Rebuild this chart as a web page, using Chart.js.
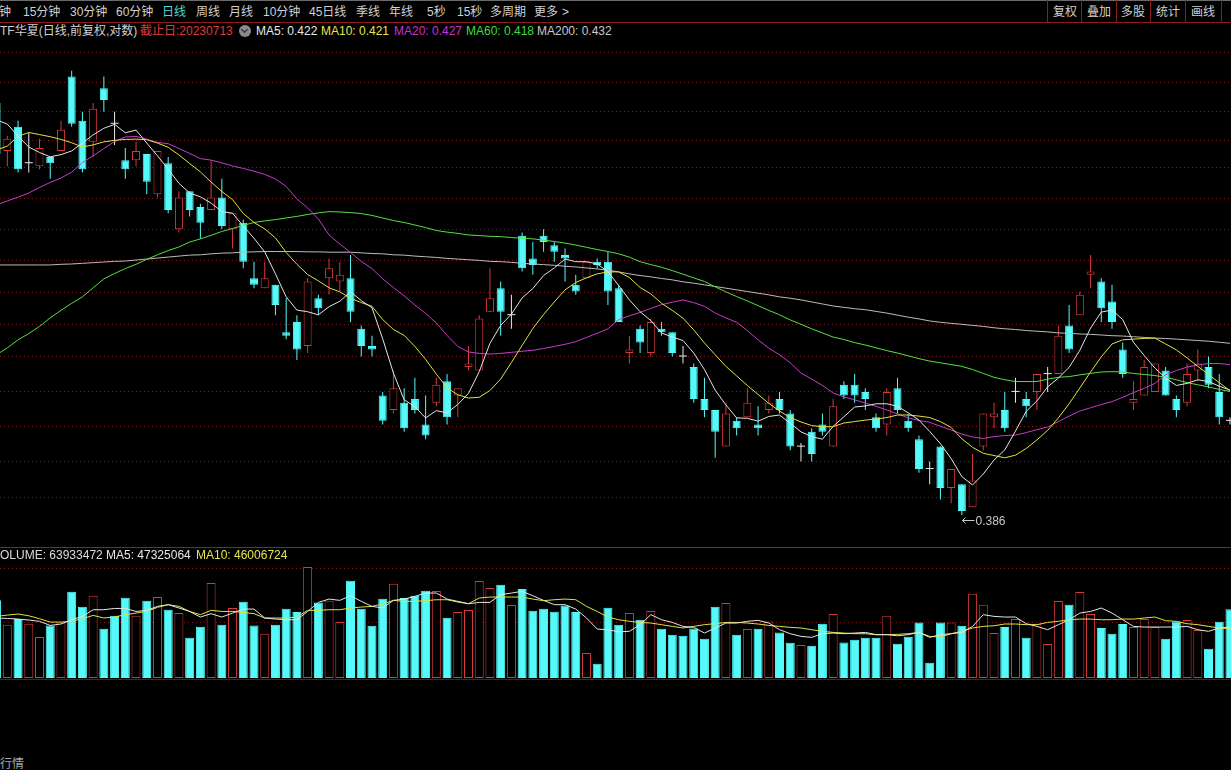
<!DOCTYPE html>
<html>
<head>
<meta charset="utf-8">
<script src="https://cdn.jsdelivr.net/npm/chart.js@4.4.0/dist/chart.umd.min.js"></script>
<style>
html,body{margin:0;padding:0;background:#000;}
#wrap{position:relative;width:1231px;height:770px;overflow:hidden;background:#000;
  font-family:"Liberation Sans","Noto Sans CJK SC",sans-serif;font-size:12px;color:#d0d0d0;}
.t{position:absolute;white-space:nowrap;line-height:16px;height:16px;}
.hl{position:absolute;left:0;width:1231px;height:1px;}
.vl{position:absolute;top:0;width:1px;height:22px;background:#8e1c1c;}
canvas{position:absolute;left:0;}
</style>
</head>
<body>
<div id="wrap">
  <div class="hl" style="top:0;background:#6a6a6a"></div>
  <!-- toolbar -->
  <span class="t" style="left:-1px;top:4px">钟</span>
  <span class="t" style="left:23px;top:4px">15分钟</span>
  <span class="t" style="left:70px;top:4px">30分钟</span>
  <span class="t" style="left:116px;top:4px">60分钟</span>
  <span class="t" style="left:162px;top:4px;color:#4fd8d8">日线</span>
  <span class="t" style="left:196px;top:4px">周线</span>
  <span class="t" style="left:229px;top:4px">月线</span>
  <span class="t" style="left:263px;top:4px">10分钟</span>
  <span class="t" style="left:309px;top:4px">45日线</span>
  <span class="t" style="left:356px;top:4px">季线</span>
  <span class="t" style="left:389px;top:4px">年线</span>
  <span class="t" style="left:427px;top:4px">5秒</span>
  <span class="t" style="left:457px;top:4px">15秒</span>
  <span class="t" style="left:490px;top:4px">多周期</span>
  <span class="t" style="left:534px;top:4px">更多</span>
  <span class="t" style="left:562px;top:4px">&gt;</span>
  <div class="vl" style="left:1047px"></div>
  <div class="vl" style="left:1081px"></div>
  <div class="vl" style="left:1116px"></div>
  <div class="vl" style="left:1150px"></div>
  <div class="vl" style="left:1185px"></div>
  <div class="vl" style="left:1221px"></div>
  <span class="t" style="left:1053px;top:4px">复权</span>
  <span class="t" style="left:1087px;top:4px">叠加</span>
  <span class="t" style="left:1121px;top:4px">多股</span>
  <span class="t" style="left:1156px;top:4px">统计</span>
  <span class="t" style="left:1191px;top:4px">画线</span>
  <div class="hl" style="top:22px;background:#8e1c1c"></div>
  <!-- info line -->
  <span class="t" style="left:0;top:23px;color:#d0d0d0">TF华夏(日线,前复权,对数)</span>
  <span class="t" style="left:140px;top:23px;color:#e03a3a">截止日:20230713</span>
  <span style="position:absolute;left:239px;top:25px;width:12px;height:12px;border-radius:6px;background:#8a8a8a"></span>
  <span style="position:absolute;left:242px;top:27px;width:4px;height:4px;border-right:1.5px solid #222;border-bottom:1.5px solid #222;transform:rotate(45deg)"></span>
  <span class="t" style="left:256px;top:23px;color:#e8e8e8">MA5: 0.422</span>
  <span class="t" style="left:321px;top:23px;color:#e6e650">MA10: 0.421</span>
  <span class="t" style="left:394px;top:23px;color:#c832c8">MA20: 0.427</span>
  <span class="t" style="left:466px;top:23px;color:#3cdc3c">MA60: 0.418</span>
  <span class="t" style="left:537px;top:23px;color:#c8c8c8">MA200: 0.432</span>

  <canvas id="mainChart" width="1231" height="507" style="top:40px"></canvas>
  <span id="lowLabel" class="t" style="color:#c8c8c8"></span>

  <div class="hl" style="top:547px;background:#a01c1c"></div>
  <canvas id="volChart" width="1231" height="130" style="top:548px"></canvas>
  <span class="t" style="left:-8px;top:547px;color:#dcdcdc">VOLUME: 63933472</span>
  <span class="t" style="left:106px;top:547px;color:#e8e8e8">MA5: 47325064</span>
  <span class="t" style="left:196px;top:547px;color:#e6e650">MA10: 46006724</span>
  <div class="hl" style="top:679px;background:#6e1414"></div>

  <span class="t" style="left:0;top:756px;color:#a8a8a8">行情</span>
</div>

<script>
// ---------------- data ----------------
// trading sessions, oldest first; the last one ends on 2023-07-13
const open = [0.508,0.492,0.500,0.488,0.487,0.490,0.492,0.517,0.502,0.495,
0.513,0.501,0.489,0.489,0.491,0.478,0.488,0.467,0.479,0.474,
0.473,0.477,0.467,0.469,0.452,0.449,0.450,0.436,0.439,0.432,
0.446,0.452,0.451,0.452,0.437,0.432,0.418,0.414,0.416,0.417,
0.410,0.416,0.422,0.418,0.426,0.425,0.442,0.449,0.441,0.465,
0.458,0.465,0.462,0.459,0.450,0.452,0.457,0.457,0.449,0.430,
0.437,0.430,0.437,0.436,0.429,0.426,0.417,0.414,0.404,0.411,
0.412,0.410,0.414,0.417,0.413,0.404,0.408,0.410,0.404,0.421,
0.421,0.419,0.412,0.410,0.420,0.411,0.406,0.398,0.404,0.393,
0.394,0.388,0.404,0.412,0.414,0.419,0.417,0.419,0.424,0.424,
0.438,0.441,0.453,0.451,0.445,0.431,0.416,0.418,0.419,0.425,
0.417,0.416,0.425,0.426,0.419,0.411];

const high = [0.509,0.497,0.502,0.498,0.496,0.490,0.502,0.519,0.505,0.508,
0.517,0.505,0.493,0.495,0.491,0.492,0.490,0.479,0.479,0.475,
0.489,0.483,0.472,0.470,0.457,0.457,0.450,0.446,0.441,0.452,
0.447,0.458,0.457,0.459,0.438,0.435,0.419,0.425,0.420,0.423,
0.418,0.423,0.424,0.420,0.432,0.441,0.455,0.451,0.447,0.466,
0.463,0.467,0.463,0.461,0.453,0.457,0.458,0.460,0.450,0.435,
0.438,0.440,0.439,0.436,0.432,0.427,0.423,0.414,0.416,0.412,
0.420,0.415,0.418,0.419,0.414,0.405,0.409,0.413,0.417,0.422,
0.424,0.420,0.413,0.420,0.423,0.413,0.407,0.400,0.404,0.398,
0.394,0.402,0.413,0.416,0.419,0.423,0.419,0.424,0.426,0.438,
0.444,0.448,0.459,0.452,0.450,0.433,0.422,0.428,0.427,0.426,
0.418,0.427,0.431,0.429,0.424,0.412];

const low = [0.490,0.487,0.485,0.485,0.486,0.483,0.492,0.500,0.485,0.490,
0.505,0.494,0.483,0.487,0.478,0.477,0.472,0.466,0.471,0.464,
0.473,0.467,0.461,0.455,0.449,0.449,0.441,0.434,0.428,0.430,
0.441,0.447,0.448,0.439,0.429,0.429,0.410,0.413,0.408,0.413,
0.406,0.415,0.410,0.412,0.425,0.425,0.442,0.435,0.437,0.454,
0.453,0.460,0.457,0.451,0.447,0.452,0.455,0.444,0.439,0.427,
0.430,0.429,0.435,0.429,0.427,0.416,0.412,0.401,0.404,0.407,
0.412,0.407,0.413,0.413,0.403,0.400,0.400,0.407,0.404,0.417,
0.416,0.414,0.408,0.407,0.413,0.408,0.397,0.394,0.390,0.389,
0.386,0.388,0.403,0.409,0.408,0.416,0.412,0.414,0.419,0.424,
0.430,0.441,0.449,0.439,0.437,0.423,0.414,0.418,0.419,0.418,
0.412,0.415,0.422,0.420,0.410,0.410];

const close = [0.491,0.496,0.486,0.488,0.493,0.488,0.499,0.501,0.486,0.506,
0.509,0.501,0.486,0.492,0.482,0.492,0.473,0.477,0.473,0.469,
0.477,0.468,0.472,0.457,0.450,0.452,0.444,0.435,0.431,0.451,
0.443,0.455,0.453,0.442,0.432,0.431,0.411,0.420,0.409,0.414,
0.407,0.421,0.412,0.420,0.427,0.440,0.446,0.442,0.441,0.455,
0.456,0.463,0.460,0.458,0.448,0.457,0.456,0.448,0.439,0.431,
0.433,0.439,0.436,0.430,0.429,0.417,0.414,0.408,0.413,0.409,
0.416,0.409,0.416,0.414,0.404,0.404,0.402,0.408,0.415,0.418,
0.418,0.417,0.409,0.419,0.414,0.409,0.398,0.398,0.393,0.398,
0.387,0.395,0.413,0.413,0.409,0.419,0.415,0.424,0.424,0.435,
0.431,0.447,0.454,0.443,0.439,0.424,0.417,0.426,0.427,0.418,
0.414,0.424,0.427,0.421,0.412,0.411];

const ma5 = [0.5023,0.5009,0.4969,0.4933,0.4915,0.4901,0.4908,0.4920,0.4946,0.4973,
0.4995,0.5008,0.4980,0.4989,0.4946,0.4904,0.4861,0.4815,0.4784,0.4772,
0.4752,0.4725,0.4720,0.4680,0.4642,0.4600,0.4533,0.4464,0.4425,0.4420,
0.4411,0.4435,0.4451,0.4479,0.4453,0.4432,0.4341,0.4243,0.4168,0.4149,
0.4118,0.4138,0.4132,0.4155,0.4186,0.4247,0.4328,0.4380,0.4413,0.4461,
0.4489,0.4528,0.4551,0.4578,0.4570,0.4570,0.4563,0.4540,0.4498,0.4455,
0.4420,0.4394,0.4358,0.4346,0.4336,0.4300,0.4253,0.4195,0.4154,0.4118,
0.4117,0.4109,0.4122,0.4126,0.4103,0.4080,0.4067,0.4060,0.4095,0.4121,
0.4148,0.4151,0.4157,0.4157,0.4150,0.4132,0.4112,0.4081,0.4048,0.4008,
0.3960,0.3938,0.3967,0.4004,0.4031,0.4082,0.4136,0.4165,0.4204,0.4229,
0.4259,0.4308,0.4372,0.4419,0.4425,0.4397,0.4331,0.4293,0.4257,0.4229,
0.4208,0.4214,0.4224,0.4219,0.4206,0.4195];

const ma10 = [0.4923,0.4936,0.4968,0.4981,0.4974,0.4967,0.4958,0.4947,0.4933,0.4940,
0.4950,0.4955,0.4958,0.4959,0.4957,0.4946,0.4932,0.4907,0.4879,0.4852,
0.4819,0.4789,0.4763,0.4719,0.4691,0.4671,0.4643,0.4598,0.4562,0.4531,
0.4512,0.4491,0.4479,0.4460,0.4447,0.4436,0.4397,0.4368,0.4351,0.4319,
0.4282,0.4240,0.4202,0.4182,0.4173,0.4175,0.4194,0.4226,0.4273,0.4322,
0.4371,0.4412,0.4449,0.4485,0.4507,0.4521,0.4533,0.4539,0.4539,0.4522,
0.4492,0.4473,0.4445,0.4424,0.4401,0.4367,0.4329,0.4295,0.4262,0.4235,
0.4208,0.4183,0.4158,0.4137,0.4119,0.4107,0.4097,0.4094,0.4094,0.4104,
0.4108,0.4112,0.4115,0.4119,0.4126,0.4126,0.4123,0.4119,0.4108,0.4092,
0.4061,0.4038,0.4022,0.4016,0.4010,0.4017,0.4035,0.4058,0.4084,0.4118,
0.4157,0.4201,0.4246,0.4289,0.4326,0.4338,0.4340,0.4342,0.4343,0.4326,
0.4309,0.4286,0.4262,0.4239,0.4216,0.4193];

const ma20 = [0.4746,0.4759,0.4771,0.4784,0.4802,0.4818,0.4832,0.4851,0.4882,0.4904,
0.4928,0.4951,0.4966,0.4968,0.4959,0.4948,0.4944,0.4928,0.4912,0.4895,
0.4890,0.4881,0.4871,0.4863,0.4854,0.4844,0.4829,0.4805,0.4765,0.4737,
0.4702,0.4652,0.4624,0.4598,0.4571,0.4549,0.4518,0.4492,0.4467,0.4440,
0.4415,0.4387,0.4351,0.4319,0.4303,0.4299,0.4297,0.4299,0.4302,0.4305,
0.4308,0.4313,0.4319,0.4325,0.4333,0.4345,0.4357,0.4370,0.4397,0.4408,
0.4418,0.4430,0.4441,0.4448,0.4455,0.4447,0.4436,0.4416,0.4402,0.4389,
0.4365,0.4338,0.4314,0.4295,0.4272,0.4243,0.4226,0.4208,0.4187,0.4176,
0.4168,0.4159,0.4150,0.4140,0.4129,0.4118,0.4111,0.4106,0.4095,0.4085,
0.4074,0.4066,0.4062,0.4067,0.4070,0.4071,0.4078,0.4086,0.4093,0.4108,
0.4123,0.4137,0.4146,0.4155,0.4163,0.4175,0.4188,0.4200,0.4214,0.4238,
0.4250,0.4260,0.4266,0.4270,0.4270,0.4267];

const ma60 = [0.4295,0.4315,0.4338,0.4356,0.4377,0.4402,0.4424,0.4445,0.4464,0.4491,
0.4518,0.4534,0.4549,0.4562,0.4577,0.4591,0.4604,0.4615,0.4630,0.4640,
0.4651,0.4663,0.4672,0.4682,0.4691,0.4696,0.4700,0.4705,0.4710,0.4716,
0.4721,0.4725,0.4724,0.4722,0.4719,0.4713,0.4705,0.4697,0.4691,0.4683,
0.4675,0.4666,0.4661,0.4657,0.4652,0.4650,0.4648,0.4647,0.4644,0.4642,
0.4640,0.4636,0.4632,0.4627,0.4621,0.4614,0.4607,0.4601,0.4594,0.4584,
0.4570,0.4561,0.4553,0.4543,0.4532,0.4521,0.4510,0.4494,0.4479,0.4465,
0.4452,0.4438,0.4424,0.4411,0.4396,0.4383,0.4370,0.4358,0.4346,0.4339,
0.4330,0.4323,0.4315,0.4307,0.4300,0.4292,0.4284,0.4277,0.4272,0.4267,
0.4262,0.4253,0.4242,0.4231,0.4224,0.4219,0.4219,0.4219,0.4226,0.4231,
0.4233,0.4238,0.4242,0.4246,0.4247,0.4246,0.4242,0.4239,0.4236,0.4231,
0.4224,0.4216,0.4210,0.4204,0.4197,0.4191];

const ma200 = [0.4560,0.4560,0.4560,0.4560,0.4560,0.4560,0.4562,0.4563,0.4565,0.4567,
0.4569,0.4571,0.4572,0.4575,0.4578,0.4581,0.4584,0.4587,0.4590,0.4591,
0.4594,0.4596,0.4597,0.4599,0.4600,0.4601,0.4601,0.4601,0.4601,0.4600,
0.4600,0.4599,0.4599,0.4599,0.4597,0.4595,0.4594,0.4591,0.4590,0.4587,
0.4585,0.4583,0.4580,0.4578,0.4576,0.4574,0.4571,0.4570,0.4568,0.4565,
0.4563,0.4561,0.4559,0.4556,0.4554,0.4551,0.4548,0.4544,0.4539,0.4533,
0.4528,0.4524,0.4519,0.4515,0.4509,0.4505,0.4500,0.4495,0.4490,0.4485,
0.4480,0.4475,0.4470,0.4464,0.4460,0.4455,0.4449,0.4443,0.4437,0.4433,
0.4429,0.4426,0.4421,0.4416,0.4410,0.4404,0.4399,0.4393,0.4389,0.4386,
0.4383,0.4380,0.4377,0.4373,0.4370,0.4368,0.4365,0.4363,0.4361,0.4358,
0.4357,0.4355,0.4354,0.4352,0.4350,0.4349,0.4347,0.4345,0.4343,0.4342,
0.4340,0.4338,0.4336,0.4334,0.4331,0.4328];

const volume = [72.2e6,49.6e6,54.9e6,50.5e6,38.1e6,48.9e6,51.7e6,80.3e6,66.3e6,76.5e6,
45.8e6,57.9e6,74.7e6,57.9e6,71.9e6,75.3e6,63.5e6,60.5e6,37.5e6,47.7e6,
88.4e6,49.6e6,65.1e6,71.0e6,48.9e6,41.2e6,49.6e6,64.4e6,61.4e6,103.2e6,
70.3e6,71.9e6,52.1e6,90.5e6,64.4e6,48.6e6,73.7e6,87.7e6,74.4e6,76.5e6,
81.2e6,80.9e6,56.1e6,61.4e6,63.2e6,90.2e6,83.7e6,86.8e6,67.9e6,82.8e6,
62.6e6,64.4e6,61.7e6,67.5e6,61.4e6,23.3e6,13.3e6,65.4e6,49.6e6,60.5e6,
54.2e6,62.3e6,45.8e6,40.3e6,39.3e6,46.1e6,36.5e6,66.3e6,69.8e6,40.3e6,
45.6e6,45.8e6,52.6e6,42.4e6,32.8e6,30.7e6,30.0e6,50.5e6,59.5e6,33.1e6,
35.6e6,37.5e6,37.5e6,57.9e6,31.9e6,38.4e6,51.7e6,14.2e6,51.7e6,51.7e6,
48.6e6,78.4e6,68.2e6,41.9e6,47.4e6,54.9e6,37.5e6,50.5e6,31.6e6,71.6e6,
68.2e6,80.0e6,59.5e6,46.5e6,41.2e6,50.2e6,47.4e6,54.9e6,47.4e6,36.5e6,
52.6e6,53.9e6,44.6e6,27.2e6,52.4e6,63933472];

// 1 = red (up) volume bar, 0 = cyan (down) volume bar
const volumeUp = [0,1,0,1,1,0,1,0,0,1,
0,0,0,1,0,1,0,1,0,0,
1,0,1,0,0,1,0,0,0,1,
0,1,1,0,0,0,0,1,0,0,
0,1,0,1,1,1,1,0,1,0,
0,0,0,0,0,1,0,0,0,1,
0,1,0,0,0,0,0,0,1,0,
1,0,1,0,0,1,0,0,1,0,
0,0,0,1,0,0,0,0,0,1,
0,1,1,1,0,1,0,1,1,1,
0,1,1,0,0,0,1,1,1,0,
0,1,1,0,0,0];

const volMa5 = [55.8e6,55.4e6,54.8e6,53.9e6,52.7e6,48.9e6,50.2e6,54.2e6,57.3e6,63.5e6,
63.5e6,64.7e6,64.7e6,61.9e6,62.9e6,66.6e6,68.2e6,65.1e6,61.9e6,56.7e6,
59.8e6,56.7e6,60.4e6,64.1e6,64.1e6,55.8e6,54.8e6,54.2e6,54.2e6,61.9e6,
70.3e6,73.4e6,72.2e6,76.5e6,71.3e6,66.6e6,65.1e6,72.2e6,73.4e6,75.9e6,
79.0e6,79.0e6,73.4e6,71.3e6,69.1e6,70.3e6,70.3e6,77.5e6,79.0e6,80.6e6,
76.5e6,72.2e6,68.2e6,68.2e6,64.1e6,55.8e6,45.5e6,44.9e6,43.0e6,43.4e6,
49.6e6,58.9e6,54.2e6,51.7e6,48.0e6,47.1e6,41.8e6,46.5e6,51.1e6,51.1e6,
52.7e6,53.6e6,51.1e6,44.9e6,41.2e6,38.7e6,37.8e6,41.2e6,41.8e6,41.2e6,
41.8e6,42.4e6,40.3e6,40.3e6,39.3e6,40.3e6,42.4e6,37.8e6,40.3e6,41.2e6,
42.4e6,48.0e6,58.9e6,57.3e6,56.7e6,56.7e6,50.5e6,48.0e6,44.9e6,49.6e6,
54.2e6,60.4e6,61.9e6,65.1e6,60.4e6,54.2e6,48.0e6,47.4e6,47.4e6,47.4e6,
47.4e6,48.0e6,44.9e6,43.4e6,46.5e6,47325064];

const volMa10 = [57.3e6,58.5e6,59.5e6,57.9e6,55.1e6,52.0e6,52.0e6,52.7e6,55.1e6,58.2e6,
55.8e6,56.7e6,58.9e6,60.4e6,61.9e6,65.7e6,68.2e6,66.6e6,61.9e6,58.9e6,
62.9e6,61.9e6,61.9e6,61.0e6,59.8e6,55.8e6,55.8e6,55.8e6,56.7e6,62.9e6,
62.9e6,63.5e6,63.5e6,65.1e6,66.0e6,66.6e6,68.8e6,72.2e6,71.3e6,71.3e6,
71.9e6,72.8e6,72.8e6,70.6e6,69.1e6,74.4e6,75.3e6,75.3e6,75.3e6,75.3e6,
73.4e6,71.9e6,72.8e6,73.4e6,72.8e6,66.6e6,61.9e6,56.7e6,54.2e6,52.7e6,
51.7e6,51.1e6,49.6e6,48.0e6,46.5e6,48.0e6,49.6e6,50.5e6,51.7e6,51.7e6,
51.1e6,50.2e6,48.9e6,48.0e6,47.1e6,46.5e6,44.9e6,43.4e6,42.4e6,41.8e6,
41.2e6,41.2e6,40.3e6,40.3e6,40.6e6,41.2e6,42.4e6,38.7e6,38.1e6,41.2e6,
43.4e6,46.5e6,48.0e6,48.6e6,50.2e6,50.2e6,49.6e6,49.6e6,51.7e6,52.7e6,
54.2e6,54.8e6,54.8e6,54.2e6,54.2e6,54.8e6,54.8e6,55.8e6,56.7e6,53.3e6,
52.7e6,50.5e6,49.6e6,48.0e6,46.5e6,46006724];

// horizontal reference lines (hidden tick labels)
const priceGridTicks = [0.3906,0.4000,0.4094,0.4191,0.4289,0.4384,0.4478,0.4575,0.4670,0.4768,0.4865,0.4956,0.5051,0.5149,0.5252];
const volumeGridTicks = [51.8e6, 102.0e6];

// ---------------- styling ----------------
const RED = '#d63a3a', CYAN = '#54fafa', DOJI = '#e8e8e8';
const GRID = '#7a1c1c';
const X_MIN = 0.317, X_MAX = 115.095;         // visible window (session index)
const Y_MIN = 0.37785, Y_MAX = 0.52977;       // visible price window (log)
const VOL_MAX = 120.9e6;

const idx = open.map((_, i) => i);
const dir = i => close[i] > open[i] ? 1 : (close[i] < open[i] ? -1 : 0);
const candleColor = i => { const d = dir(i); return d > 0 ? RED : d < 0 ? CYAN : DOJI; };

const pts = arr => arr.map((v, i) => ({x: idx[i], y: v}));
const lineDs = (label, arr, color) => ({
  type: 'line', label, data: pts(arr), borderColor: color, borderWidth: 1,
  pointRadius: 0, tension: 0, fill: false, order: 0
});

const lowMarker = {
  id: 'lowMarker',
  afterDatasetsDraw(chart) {
    const m = Math.min(...low);
    const i = low.indexOf(m);
    const x = chart.scales.x.getPixelForValue(idx[i]);
    const y = chart.scales.y.getPixelForValue(m);
    const c = chart.ctx;
    c.save();
    c.strokeStyle = '#c8c8c8'; c.lineWidth = 1;
    const ax = Math.round(x) + 0.5, ay = Math.round(y + 5) + 0.5;
    c.beginPath();
    c.moveTo(ax, ay); c.lineTo(ax + 12, ay);
    c.moveTo(ax, ay); c.lineTo(ax + 3, ay - 3);
    c.moveTo(ax, ay); c.lineTo(ax + 3, ay + 3);
    c.stroke();
    c.restore();
    const lab = document.getElementById('lowLabel');
    lab.textContent = m.toFixed(3);
    lab.style.left = (ax + 13) + 'px';
    lab.style.top = (40 + ay - 8) + 'px';
  }
};

const zeroWidth = s => { s.width = 0; };

new Chart(document.getElementById('mainChart'), {
  type: 'bar',
  data: {
    datasets: [
      lineDs('MA5', ma5, '#e4e4e4'),
      lineDs('MA10', ma10, '#e2e23c'),
      lineDs('MA20', ma20, '#c83cc8'),
      lineDs('MA60', ma60, '#55e040'),
      lineDs('MA200', ma200, '#bcbcbc'),
      {
        type: 'bar', label: 'body', order: 1, grouped: false,
        data: idx.map(i => ({x: i, y: [open[i], close[i]]})),
        barThickness: 8, minBarLength: 1, inflateAmount: 0, borderSkipped: false,
        backgroundColor: c => dir(c.dataIndex) > 0 ? '#000000' : candleColor(c.dataIndex),
        borderColor: c => candleColor(c.dataIndex),
        borderWidth: c => dir(c.dataIndex) === 0 ? 0 : 1
      },
      {
        type: 'bar', label: 'wick', order: 2, grouped: false,
        data: idx.map(i => ({x: i, y: [low[i], high[i]]})),
        barThickness: 1, inflateAmount: 0, borderWidth: 0,
        backgroundColor: c => candleColor(c.dataIndex)
      }
    ]
  },
  options: {
    responsive: false, animation: false, devicePixelRatio: 1,
    layout: {padding: 0, autoPadding: false},
    plugins: {legend: {display: false}, tooltip: {enabled: false}},
    scales: {
      x: {type: 'linear', min: X_MIN, max: X_MAX, bounds: 'data', offset: false, display: false},
      y: {
        type: 'logarithmic', position: 'right', min: Y_MIN, max: Y_MAX, bounds: 'data',
        ticks: {display: false},
        grid: {color: GRID, lineWidth: 1, drawTicks: false},
        border: {display: false, dash: [1, 3]},
        afterBuildTicks: s => { s.ticks = priceGridTicks.map(v => ({value: v})); },
        afterFit: zeroWidth
      }
    }
  },
  plugins: [lowMarker]
});

new Chart(document.getElementById('volChart'), {
  type: 'bar',
  data: {
    datasets: [
      lineDs('VOL MA5', volMa5, '#e4e4e4'),
      lineDs('VOL MA10', volMa10, '#e2e23c'),
      {
        type: 'bar', label: 'VOLUME', order: 1, grouped: false,
        data: idx.map(i => ({x: i, y: volume[i]})),
        barThickness: 9, inflateAmount: 0, borderSkipped: false,
        backgroundColor: c => volumeUp[c.dataIndex] ? '#000000' : CYAN,
        borderColor: c => volumeUp[c.dataIndex] ? RED : CYAN,
        borderWidth: 1
      }
    ]
  },
  options: {
    responsive: false, animation: false, devicePixelRatio: 1,
    layout: {padding: 0, autoPadding: false},
    plugins: {legend: {display: false}, tooltip: {enabled: false}},
    scales: {
      x: {type: 'linear', min: X_MIN, max: X_MAX, bounds: 'data', offset: false, display: false},
      y: {
        type: 'linear', position: 'right', min: 0, max: VOL_MAX, bounds: 'data',
        ticks: {display: false},
        grid: {color: GRID, lineWidth: 1, drawTicks: false},
        border: {display: false, dash: [1, 3]},
        afterBuildTicks: s => { s.ticks = volumeGridTicks.map(v => ({value: v})); },
        afterFit: zeroWidth
      }
    }
  }
});
</script>
</body>
</html>
